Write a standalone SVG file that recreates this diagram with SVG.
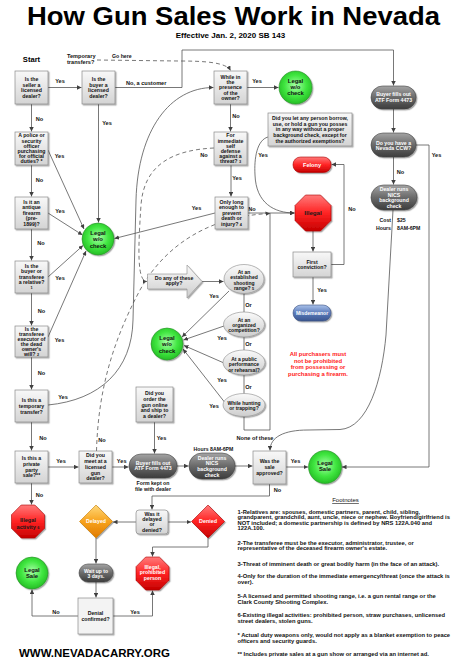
<svg xmlns="http://www.w3.org/2000/svg" width="474" height="666" viewBox="0 0 474 666">
<defs>
<linearGradient id="gBox" x1="0" y1="0" x2="0" y2="1"><stop offset="0" stop-color="#f8f8f8"/><stop offset="1" stop-color="#d4d4d4"/></linearGradient>
<linearGradient id="gPill" x1="0" y1="0" x2="0" y2="1"><stop offset="0" stop-color="#a4a4a4"/><stop offset="0.5" stop-color="#6a6a6a"/><stop offset="1" stop-color="#3c3c3c"/></linearGradient>
<radialGradient id="gGreen" cx="0.5" cy="0.45" r="0.6"><stop offset="0" stop-color="#a8ffa8"/><stop offset="0.55" stop-color="#40e640"/><stop offset="1" stop-color="#1fb51f"/></radialGradient>
<linearGradient id="gRed" x1="0" y1="0" x2="0" y2="1"><stop offset="0" stop-color="#ff7a7a"/><stop offset="0.5" stop-color="#ff2323"/><stop offset="1" stop-color="#c40000"/></linearGradient>
<linearGradient id="gOrange" x1="0" y1="0" x2="0" y2="1"><stop offset="0" stop-color="#ffd97a"/><stop offset="0.5" stop-color="#f7a21c"/><stop offset="1" stop-color="#e07a00"/></linearGradient>
<linearGradient id="gBlue" x1="0" y1="0" x2="0" y2="1"><stop offset="0" stop-color="#aac2ea"/><stop offset="0.5" stop-color="#5a7aba"/><stop offset="1" stop-color="#3a5690"/></linearGradient>
<linearGradient id="gEll" x1="0" y1="0" x2="0" y2="1"><stop offset="0" stop-color="#fafafa"/><stop offset="1" stop-color="#cdcdcd"/></linearGradient>
<filter id="sh" x="-20%" y="-20%" width="150%" height="150%"><feDropShadow dx="1.2" dy="1.2" stdDeviation="0.7" flood-color="#000" flood-opacity="0.35"/></filter>
<marker id="ah" viewBox="0 0 6 6" refX="6" refY="3" markerWidth="4.5" markerHeight="4.5" markerUnits="userSpaceOnUse" orient="auto"><path d="M0,0 L6,3 L0,6 z" fill="#404040"/></marker>
</defs>
<style>
text{font-family:"Liberation Sans",Arial,sans-serif;font-weight:bold}
.t{font-size:5.2px;text-anchor:middle;fill:#111}
.w{fill:#fff}
.lb{font-size:5.6px;text-anchor:middle;fill:#111}
.ct{font-size:5.9px;text-anchor:middle;fill:#111}
.box{fill:url(#gBox);stroke:#8a8a8a;stroke-width:0.7;filter:url(#sh)}
.pill{fill:url(#gPill);stroke:#444;stroke-width:0.6;filter:url(#sh)}
.grn{fill:url(#gGreen);stroke:#2b8f2b;stroke-width:0.6;filter:url(#sh)}
.red{fill:url(#gRed);stroke:#a80000;stroke-width:0.6;filter:url(#sh)}
.ell{fill:url(#gEll);stroke:#8a8a8a;stroke-width:0.6;filter:url(#sh)}
.c{fill:none;stroke:#555;stroke-width:0.8}
.ar{marker-end:url(#ah)}
.dash{stroke-dasharray:4 3}
.fn{font-size:5.8px;fill:#111}
</style>
<rect width="474" height="666" fill="#fff"/>

<g id="title">
<text x="27" y="25" font-size="26" textLength="413" lengthAdjust="spacingAndGlyphs" fill="#000">How Gun Sales Work in Nevada</text>
<text x="175.7" y="38" font-size="8" fill="#000">Effective Jan. 2, 2020 SB 143</text>
<text x="31.5" y="62" font-size="7.6" text-anchor="middle" fill="#000">Start</text>
</g>

<g id="connectors">
<path class="c ar" d="M48,87.5 H81.5"/>
<path class="c ar" d="M31.5,104 V131.5"/>
<path class="c ar" d="M98.5,104 V222.5"/>
<path class="c ar" d="M115,87.5 H182 V50 H393.5 V85.5"/>
<path class="c ar dash" d="M97,60 L178,61 C203,61 226,62 230.5,70.5"/>
<path class="c ar" d="M247,87.5 H278.5"/>
<path class="c ar" d="M230.5,104 V131.5"/>
<path class="c ar" d="M231,165 V196.5"/>
<path class="c ar dash" d="M214,148 C172,150 144,165 141,205 C138,250 137,281.5 147,281.5"/>
<path class="c ar" d="M215,213 L114.5,238.5"/>
<path class="c ar" d="M248,213 H294.5"/>
<path class="c ar" d="M268,137 C257,140 254,158 255,175 C256,203 274,213 294.5,213"/>
<path class="c ar dash" d="M96.5,451 C98,400 108,350 140,290 C165,245 210,216 270,213.5"/>
<path class="c ar" d="M313,231 V251.5"/>
<path class="c ar" d="M313,277 V304.5"/>
<path class="c ar" d="M331,264.5 H344 V164.5 H331.5"/>
<path class="c ar" d="M393.5,109 V132.5"/>
<path class="c ar" d="M393.5,157 V184.5"/>
<path class="c ar" d="M416,145 H429 V467 H342"/>
<path class="c ar" d="M393,210 L386,335 C382,380 368,428 340,429.5 L308,430 C284,430 270,437 270,450.5"/>
<path class="c ar" d="M202,281.5 H223.5"/>
<path class="c" d="M244,293.5 V312"/>
<path class="c" d="M244,337 V350"/>
<path class="c" d="M244,375 V393.5"/>
<path class="c" d="M244,416.5 V430 H270 V213"/>
<path class="c ar" d="M229,291 L182,337"/>
<path class="c ar" d="M224,326 L183.5,340"/>
<path class="c ar" d="M224,363 L184,345.5"/>
<path class="c ar" d="M226,404 L183,349"/>
<path class="c ar" d="M48,150 L84,229"/>
<path class="c ar" d="M31.5,165 V196.5"/>
<path class="c ar" d="M48,213 L82.5,235"/>
<path class="c ar" d="M31.5,229 V260.5"/>
<path class="c ar" d="M48,277 L83,245.5"/>
<path class="c ar" d="M31.5,293 V325.5"/>
<path class="c ar" d="M48,337 L86,251"/>
<path class="c ar" d="M31.5,357 V389.5"/>
<path class="c ar" d="M48,405 C100,400 132,370 133,320 L136,200 C138,130 170,87.5 213.5,87.5"/>
<path class="c ar" d="M31.5,422 V450.5"/>
<path class="c ar" d="M48,467 H78.5"/>
<path class="c ar" d="M31.5,483 V504.5"/>
<path class="c ar" d="M112,467 H128.5"/>
<path class="c ar" d="M154.5,422 V453.5"/>
<path class="c ar" d="M177,466 H188.5"/>
<path class="c ar" d="M235,466 H252.5"/>
<path class="c ar" d="M286,467 H308"/>
<path class="c ar" d="M269.5,484 V496 H152 V509.5"/>
<path class="c ar" d="M136,522 H113"/>
<path class="c ar" d="M168,522 H191"/>
<path class="c ar" d="M208,538 V547 H152.5 V556.5"/>
<path class="c ar" d="M96,538 V563.5"/>
<path class="c ar" d="M96,582 V597.5"/>
<path class="c ar" d="M78,616 H32 V589.5"/>
<path class="c ar" d="M113,616 H152.5 V590.5"/>
<text class="lb" x="60" y="83">Yes</text>
<text class="lb" x="39.5" y="121">No</text>
<text class="lb" x="107" y="124.5">Yes</text>
<text class="lb" x="126" y="84.5" text-anchor="start" style="text-anchor:start">No, a customer</text>
<text class="lb" x="67" y="58" style="text-anchor:start">Temporary</text>
<text class="lb" x="67" y="64" style="text-anchor:start">transfers?</text>
<text class="lb" x="112" y="58" style="text-anchor:start;font-size:5.2px">Go here</text>
<text class="lb" x="257" y="83">Yes</text>
<text class="lb" x="236" y="118">No</text>
<text class="lb" x="204" y="157">No</text>
<text class="lb" x="263" y="157">Yes</text>
<text class="lb" x="237" y="180">Yes</text>
<text class="lb" x="196.5" y="210">Yes</text>
<text class="lb" x="252" y="211">No</text>
<text class="lb" x="352" y="211">No</text>
<text class="lb" x="322" y="292">Yes</text>
<text class="lb" x="436.5" y="156.5">Yes</text>
<text class="lb" x="400.5" y="174">No</text>
<text class="lb" x="59.5" y="158">Yes</text>
<text class="lb" x="39.5" y="182">No</text>
<text class="lb" x="60" y="213">Yes</text>
<text class="lb" x="41" y="245">No</text>
<text class="lb" x="60" y="280">Yes</text>
<text class="lb" x="41.5" y="313">No</text>
<text class="lb" x="59.5" y="342">Yes</text>
<text class="lb" x="41.5" y="375">No</text>
<text class="lb" x="63" y="399">Yes</text>
<text class="lb" x="43" y="439.5">No</text>
<text class="lb" x="61" y="463">Yes</text>
<text class="lb" x="39.5" y="497">No</text>
<text class="lb" x="121.7" y="463">Yes</text>
<text class="lb" x="102" y="441.5">No</text>
<text class="lb" x="161.5" y="439.5">Yes</text>
<text class="lb" x="255" y="439.5">None of these</text>
<text class="lb" x="213.5" y="450.5" style="font-size:5.2px">Hours 8AM-6PM</text>
<text class="lb" x="295.5" y="463">Yes</text>
<text class="lb" x="277.5" y="491.5">No</text>
<text class="lb" x="214" y="298">Yes</text>
<text class="lb" x="222" y="339.5">Yes</text>
<text class="lb" x="222" y="382">Yes</text>
<text class="lb" x="214" y="408">Yes</text>
<text class="lb" x="248.5" y="307">Or</text>
<text class="lb" x="248.5" y="345.5">Or</text>
<text class="lb" x="248.5" y="389">Or</text>
<text class="lb" x="56" y="614">No</text>
<text class="lb" x="135" y="614">Yes</text>
</g>

<g id="n-seller-dealer"><rect class="box" x="15" y="71" width="33" height="33"/><text class="t" y="81"><tspan x="31.5">Is the</tspan><tspan x="31.5" dy="5.6">seller a</tspan><tspan x="31.5" dy="5.6">licensed</tspan><tspan x="31.5" dy="5.6">dealer?</tspan></text></g>
<g id="n-buyer-dealer"><rect class="box" x="82" y="71" width="33" height="33"/><text class="t" y="81"><tspan x="98.5">Is the</tspan><tspan x="98.5" dy="5.6">buyer a</tspan><tspan x="98.5" dy="5.6">licensed</tspan><tspan x="98.5" dy="5.6">dealer?</tspan></text></g>
<g id="n-presence"><rect class="box" x="214" y="71" width="33" height="33"/><text class="t" y="78.8"><tspan x="230.5">While in</tspan><tspan x="230.5" dy="5.3">the</tspan><tspan x="230.5" dy="5.3">presence</tspan><tspan x="230.5" dy="5.3">of the</tspan><tspan x="230.5" dy="5.3">owner?</tspan></text></g>
<g id="n-legal-wo-check-1"><circle class="grn" cx="295.5" cy="87.5" r="16.5"/><text class="ct" y="83"><tspan x="295.5">Legal</tspan><tspan x="295.5" dy="6">w/o</tspan><tspan x="295.5" dy="6">check</tspan></text></g>
<g id="n-self-defense"><rect class="box" x="214" y="132" width="33" height="33"/><text class="t" y="137.3"><tspan x="230.5">For</tspan><tspan x="230.5" dy="5.2">immediate</tspan><tspan x="230.5" dy="5.2">self</tspan><tspan x="230.5" dy="5.2">defense</tspan><tspan x="230.5" dy="5.2">against a</tspan><tspan x="230.5" dy="5.2">threat? <tspan font-size="3.8">3</tspan></tspan></text></g>
<g id="n-long-enough"><rect class="box" x="215" y="197" width="33" height="32"/><text class="t" y="204"><tspan x="231.5">Only long</tspan><tspan x="231.5" dy="5.4">enough to</tspan><tspan x="231.5" dy="5.4">prevent</tspan><tspan x="231.5" dy="5.4">death or</tspan><tspan x="231.5" dy="5.4">injury? <tspan font-size="3.8">4</tspan></tspan></text></g>
<g id="n-let-borrow"><rect class="box" x="268" y="113" width="84" height="33"/><text class="t" y="119.9"><tspan x="310">Did you let any person borrow,</tspan><tspan x="310" dy="5.7">use, or hold a gun you posses</tspan><tspan x="310" dy="5.7">in any way without a proper</tspan><tspan x="310" dy="5.7">background check, except for</tspan><tspan x="310" dy="5.7">the authorized exemptions?</tspan></text></g>
<g id="n-felony"><rect class="red" x="293" y="157" width="38" height="15.5" rx="7.5"/><text class="t w" x="312" y="166.7" style="font-size:5.6px">Felony</text></g>
<g id="n-illegal"><polygon class="red" points="305.5,195 320.5,195 331,205.5 331,220.5 320.5,231 305.5,231 295,220.5 295,205.5"/><text class="t" x="313" y="215.2" style="font-size:6.2px;fill:#1a1a1a">Illegal</text></g>
<g id="n-first-conviction"><rect class="box" x="293" y="252" width="38" height="25"/><text class="t" y="263.5"><tspan x="312">First</tspan><tspan x="312" dy="5.6">conviction?</tspan></text></g>
<g id="n-misdemeanor"><rect x="293" y="305" width="38" height="16" rx="8" fill="url(#gBlue)" stroke="#3a5080" stroke-width="0.6" filter="url(#sh)"/><text class="t w" x="312" y="314.8" style="font-size:5px">Misdemeanor</text></g>
<g id="n-atf-1"><rect class="pill" x="371" y="86" width="45" height="23" rx="11.5"/><text class="t w" y="96.3"><tspan x="393.5">Buyer fills out</tspan><tspan x="393.5" dy="5.4">ATF Form 4473</tspan></text></g>
<g id="n-ccw"><rect class="pill" x="371" y="133" width="45" height="24" rx="12"/><text class="t w" y="144.6"><tspan x="393.5">Do you have a</tspan><tspan x="393.5" dy="5.4">Nevada CCW?</tspan></text></g>
<g id="n-nics-1"><rect class="pill" x="371" y="185" width="46" height="25" rx="12.5"/><text class="t w" y="191.2"><tspan x="394">Dealer runs</tspan><tspan x="394" dy="5.5">NICS</tspan><tspan x="394" dy="5.5">background</tspan><tspan x="394" dy="5.5">check</tspan></text></g>
<g id="n-cost"><text class="t" x="391" y="222" style="text-anchor:end">Cost</text><text class="t" x="397" y="222" style="text-anchor:start">$25</text><text class="t" x="391" y="230" style="text-anchor:end">Hours</text><text class="t" x="397" y="230" style="text-anchor:start">8AM-6PM</text></g>
<g id="n-police"><rect class="box" x="15" y="132" width="33" height="33"/><text class="t" y="137.3"><tspan x="31.5">A police or</tspan><tspan x="31.5" dy="5.2">security</tspan><tspan x="31.5" dy="5.2">officer</tspan><tspan x="31.5" dy="5.2">purchasing</tspan><tspan x="31.5" dy="5.2">for official</tspan><tspan x="31.5" dy="5.2">duties? *</tspan></text></g>
<g id="n-legal-wo-check-2"><circle class="grn" cx="98" cy="239" r="16"/><text class="ct" y="235"><tspan x="98">Legal</tspan><tspan x="98" dy="6.3">w/o</tspan><tspan x="98" dy="6.3">check</tspan></text></g>
<g id="n-antique"><rect class="box" x="15" y="197" width="33" height="32"/><text class="t" y="204"><tspan x="31.5">Is it an</tspan><tspan x="31.5" dy="5.4">antique</tspan><tspan x="31.5" dy="5.4">firearm</tspan><tspan x="31.5" dy="5.4">(pre-</tspan><tspan x="31.5" dy="5.4">1899)?</tspan></text></g>
<g id="n-relative"><rect class="box" x="15" y="261" width="33" height="32"/><text class="t" y="268"><tspan x="31.5">Is the</tspan><tspan x="31.5" dy="5.4">buyer or</tspan><tspan x="31.5" dy="5.4">transferee</tspan><tspan x="31.5" dy="5.4">a relative?</tspan><tspan x="31.5" dy="5" font-size="3.8">1</tspan></text></g>
<g id="n-executor"><rect class="box" x="15" y="326" width="33" height="31"/><text class="t" y="331"><tspan x="31.5">Is the</tspan><tspan x="31.5" dy="5">transferee</tspan><tspan x="31.5" dy="5">executor of</tspan><tspan x="31.5" dy="5">the dead</tspan><tspan x="31.5" dy="5">owner's</tspan><tspan x="31.5" dy="5">will? <tspan font-size="3.8">2</tspan></tspan></text></g>
<g id="n-temporary"><rect class="box" x="15" y="390" width="33" height="32"/><text class="t" y="402.3"><tspan x="31.5">Is this a</tspan><tspan x="31.5" dy="5.6">temporary</tspan><tspan x="31.5" dy="5.6">transfer?</tspan></text></g>
<g id="n-private"><rect class="box" x="15" y="451" width="33" height="32"/><text class="t" y="460.4"><tspan x="31.5">Is this a</tspan><tspan x="31.5" dy="5.6">private</tspan><tspan x="31.5" dy="5.6">party</tspan><tspan x="31.5" dy="5.6">sale?**</tspan></text></g>
<g id="n-meet-dealer"><rect class="box" x="79" y="451" width="33" height="32"/><text class="t" y="457.4"><tspan x="95.5">Did you</tspan><tspan x="95.5" dy="5.7">meet at a</tspan><tspan x="95.5" dy="5.7">licensed</tspan><tspan x="95.5" dy="5.7">gun</tspan><tspan x="95.5" dy="5.7">dealer?</tspan></text></g>
<g id="n-online"><rect class="box" x="136" y="387" width="37" height="35"/><text class="t" y="395.1"><tspan x="154.5">Did you</tspan><tspan x="154.5" dy="5.7">order the</tspan><tspan x="154.5" dy="5.7">gun online</tspan><tspan x="154.5" dy="5.7">and ship to</tspan><tspan x="154.5" dy="5.7">a dealer?</tspan></text></g>
<g id="n-atf-2"><rect class="pill" x="129" y="454" width="48" height="24" rx="12"/><text class="t w" y="465"><tspan x="153">Buyer fills out</tspan><tspan x="153" dy="5.4">ATF Form 4473</tspan></text><text class="t" y="485"><tspan x="153">Form kept on</tspan><tspan x="153" dy="6">file with dealer</tspan></text></g>
<g id="n-nics-2"><rect class="pill" x="189" y="453" width="46" height="26" rx="13"/><text class="t w" y="459.8"><tspan x="212">Dealer runs</tspan><tspan x="212" dy="5.6">NICS</tspan><tspan x="212" dy="5.6">background</tspan><tspan x="212" dy="5.6">check</tspan></text></g>
<g id="n-approved"><rect class="box" x="253" y="451" width="33" height="33"/><text class="t" y="463.3"><tspan x="269.5">Was the</tspan><tspan x="269.5" dy="6">sale</tspan><tspan x="269.5" dy="6">approved?</tspan></text></g>
<g id="n-legal-sale-1"><circle class="grn" cx="325" cy="467" r="16.5"/><text class="ct" y="465"><tspan x="325">Legal</tspan><tspan x="325" dy="6">Sale</tspan></text></g>
<g id="n-do-any"><polygon points="147.5,274 187,274 187,265 202,281.5 187,298 187,289 147.5,289" fill="url(#gEll)" stroke="#8a8a8a" stroke-width="0.6" filter="url(#sh)"/><text class="t" y="280"><tspan x="174">Do any of these</tspan><tspan x="174" dy="5.4">apply?</tspan></text></g>
<g id="n-range"><ellipse class="ell" cx="244" cy="279" rx="20" ry="14.5"/><text class="t" y="274" style="font-size:5px"><tspan x="244">At an</tspan><tspan x="244" dy="5.3">established</tspan><tspan x="244" dy="5.3">shooting</tspan><tspan x="244" dy="5.3">range? <tspan font-size="3.8">5</tspan></tspan></text></g>
<g id="n-competition"><ellipse class="ell" cx="244" cy="324.5" rx="20.5" ry="12.5"/><text class="t" y="322" style="font-size:5px"><tspan x="244">At an</tspan><tspan x="244" dy="5.2">organized</tspan><tspan x="244" dy="5.2">competition?</tspan></text></g>
<g id="n-performance"><ellipse class="ell" cx="244" cy="362.5" rx="21" ry="12.5"/><text class="t" y="361" style="font-size:5px"><tspan x="244">At a public</tspan><tspan x="244" dy="5.4">performance</tspan><tspan x="244" dy="5.4">or rehearsal?</tspan></text></g>
<g id="n-hunting"><ellipse class="ell" cx="244" cy="405" rx="21" ry="11.5"/><text class="t" y="405" style="font-size:5px"><tspan x="244">While hunting</tspan><tspan x="244" dy="5.3">or trapping?</tspan></text></g>
<g id="n-legal-wo-check-3"><circle class="grn" cx="167" cy="344" r="16"/><text class="ct" y="339.5"><tspan x="167">Legal</tspan><tspan x="167" dy="6.6">w/o</tspan><tspan x="167" dy="6.6">check</tspan></text></g>
<g id="n-note"><text x="318" y="356" font-size="5.9" text-anchor="middle" fill="#ff2020"><tspan x="318">All purchasers must</tspan><tspan x="318" dy="6.5">not be prohibited</tspan><tspan x="318" dy="6.5">from possessing or</tspan><tspan x="318" dy="6.5">purchasing a firearm.</tspan></text></g>
<g id="n-delayed-or-denied"><rect class="box" x="136" y="510" width="32" height="24" rx="3"/><text class="t" y="515.8"><tspan x="152">Was it</tspan><tspan x="152" dy="5.3">delayed</tspan><tspan x="152" dy="5.3">or</tspan><tspan x="152" dy="5.3">denied?</tspan></text></g>
<g id="n-delayed"><polygon points="96,505 112.5,521.5 96,538 79.5,521.5" fill="url(#gOrange)" stroke="#c77a00" stroke-width="0.6" filter="url(#sh)"/><text class="t w" x="96" y="523.4" style="font-size:5.2px">Delayed</text></g>
<g id="n-denied"><polygon points="208,505 224.5,521.5 208,538 191.5,521.5" class="red"/><text class="t w" x="208" y="523.4" style="font-size:5.4px">Denied</text></g>
<g id="n-illegal-activity"><polygon class="red" points="21.2,505 34.8,505 44.5,514.7 44.5,528.3 34.8,538 21.2,538 11.5,528.3 11.5,514.7"/><text class="t" y="522" style="font-size:5.6px;fill:#1a1a1a"><tspan x="28">Illegal</tspan><tspan x="28" dy="6.5">activity <tspan font-size="3.8">6</tspan></tspan></text></g>
<g id="n-legal-sale-2"><circle class="grn" cx="32" cy="573" r="16"/><text class="ct" y="572"><tspan x="32">Legal</tspan><tspan x="32" dy="6">Sale</tspan></text></g>
<g id="n-wait"><rect class="pill" x="79" y="564" width="34" height="18" rx="9"/><text class="t w" y="572.6" style="font-size:5px"><tspan x="96">Wait up to</tspan><tspan x="96" dy="5.2">3 days.</tspan></text></g>
<g id="n-prohibited"><polygon class="red" points="145.7,557 159.3,557 169,566.7 169,580.3 159.3,590 145.7,590 136,580.3 136,566.7"/><text class="t w" y="569" style="font-size:5.2px"><tspan x="152.5">Illegal,</tspan><tspan x="152.5" dy="5.4">prohibited</tspan><tspan x="152.5" dy="5.4">person</tspan></text></g>
<g id="n-denial-confirmed"><rect class="box" x="78" y="598" width="35" height="36" style="fill:#f3f3f3"/><text class="t" y="614.8"><tspan x="95.5">Denial</tspan><tspan x="95.5" dy="6">confirmed?</tspan></text></g>

<g id="footer">
<text x="19" y="657" font-size="11.2" textLength="151" lengthAdjust="spacingAndGlyphs" fill="#000">WWW.NEVADACARRY.ORG</text>
</g>

<g id="footnotes">
<text x="345.5" y="502" font-size="6" text-anchor="middle" text-decoration="underline" style="font-weight:normal" fill="#111">Footnotes</text>
<text class="fn" x="237.5" y="514">1-Relatives are: spouses, domestic partners, parent, child, sibling,</text>
<text class="fn" x="237.5" y="519.4">grandparent, grandchild, aunt, uncle, niece or nephew. Boyfriend/girlfriend is</text>
<text class="fn" x="237.5" y="524.8">NOT included; a domestic partnership is defined by NRS 122A.040 and</text>
<text class="fn" x="237.5" y="530.3">122A.100.</text>
<text class="fn" x="237.5" y="544.7">2-The transferee must be the executor, administrator, trustee, or</text>
<text class="fn" x="237.5" y="550.3">representative of the deceased firearm owner's estate.</text>
<text class="fn" x="237.5" y="566.3">3-Threat of imminent death or great bodily harm (in the face of an attack).</text>
<text class="fn" x="237.5" y="578">4-Only for the duration of the immediate emergency/threat (once the attack is</text>
<text class="fn" x="237.5" y="583.7">over).</text>
<text class="fn" x="237.5" y="598">5-A licensed and permitted shooting range, i.e. a gun rental range or the</text>
<text class="fn" x="237.5" y="603.7">Clark County Shooting Complex.</text>
<text class="fn" x="237.5" y="617">6-Existing illegal activities: prohibited person, straw purchases, unlicensed</text>
<text class="fn" x="237.5" y="623">street dealers, stolen guns.</text>
<text class="fn" x="237.5" y="637">* Actual duty weapons only, would not apply as a blanket exemption to peace</text>
<text class="fn" x="237.5" y="642.7">officers and security guards.</text>
<text class="fn" x="237.5" y="656.3">** Includes private sales at a gun show or arranged via an internet ad.</text>
</g>
</svg>
